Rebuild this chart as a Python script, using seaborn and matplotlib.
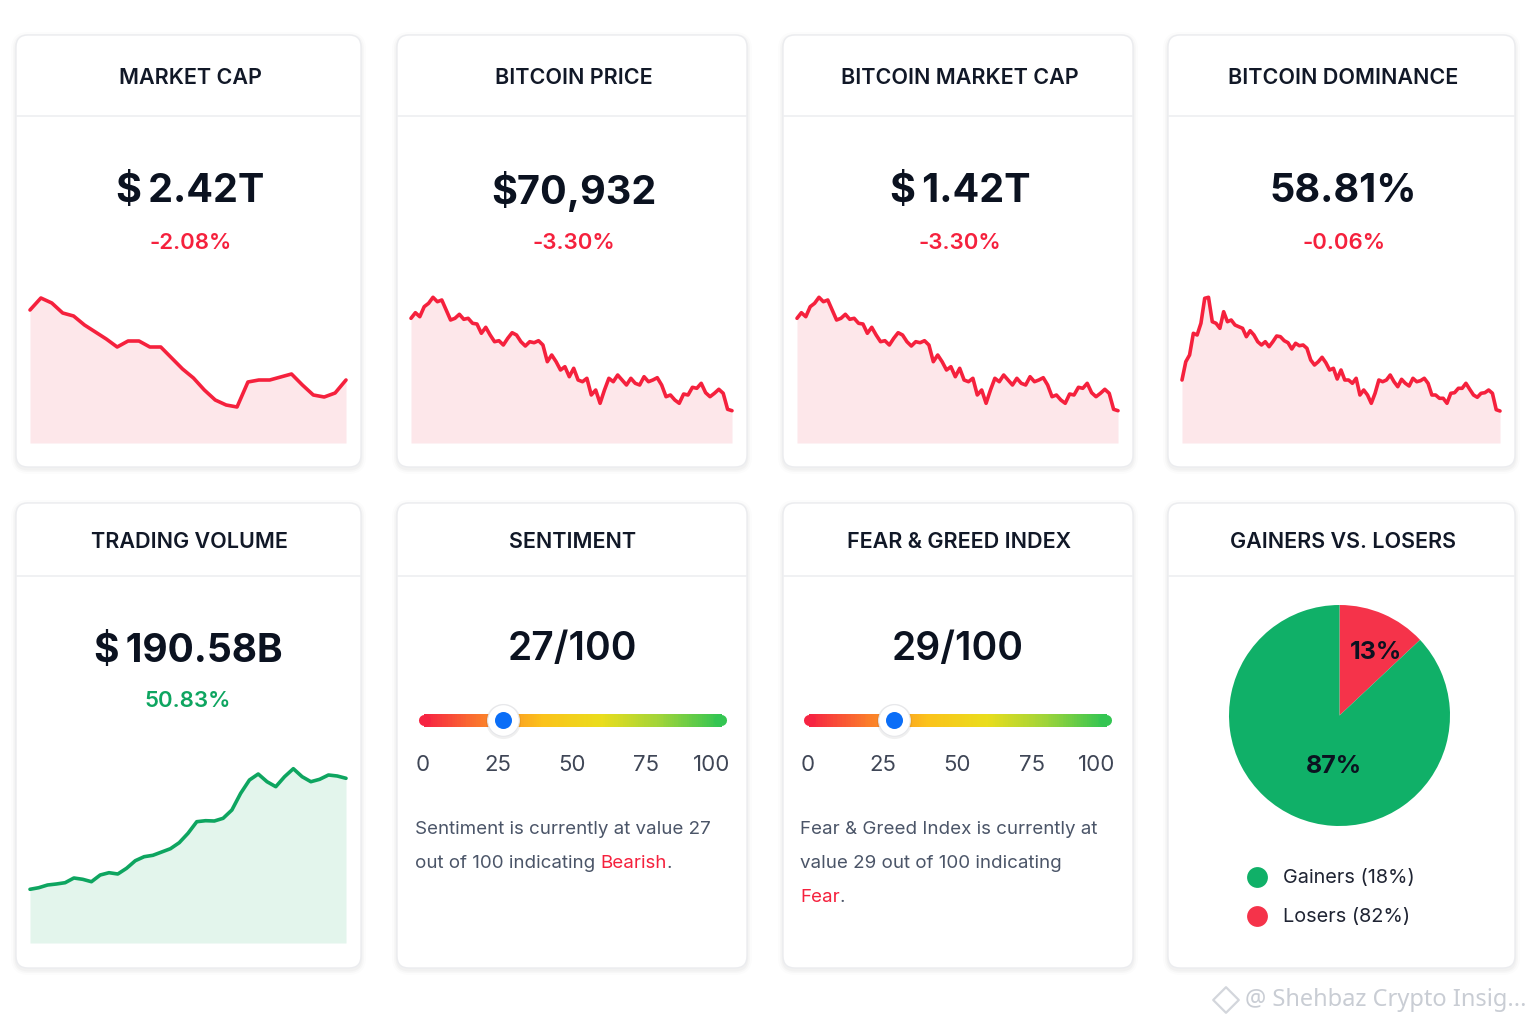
import numpy as np
import matplotlib
matplotlib.use("Agg")
import matplotlib.pyplot as plt
import seaborn as sns
from matplotlib.patches import FancyBboxPatch
from matplotlib.collections import LineCollection
from matplotlib.colors import LinearSegmentedColormap

sns.set_theme(style="white")
plt.rcParams['font.family'] = ['Inter', 'DejaVu Sans']

# ---- data ----
top_titles = ["MARKET CAP", "BITCOIN PRICE", "BITCOIN MARKET CAP", "BITCOIN DOMINANCE"]
top_values = ["$\u20092.42T", "$70,932", "$\u20091.42T", "58.81%"]
top_changes = ["-2.08%", "-3.30%", "-3.30%", "-0.06%"]

bottom_titles = ["TRADING VOLUME", "SENTIMENT", "FEAR & GREED INDEX", "GAINERS VS. LOSERS"]
volume_value = "$\u2009190.58B"
volume_change = "50.83%"

# sparkline levels (relative units)
market_cap_trend = [133, 145, 140, 130, 127, 118, 111, 104, 96, 102, 102, 96, 96, 85, 74,
                    65, 53, 43, 38, 36, 61, 63, 63, 66, 69, 58, 48, 46, 50, 63]
btc_price_trend = [124.7, 130.3, 126.3, 136.3, 139.7, 145.7, 141.3, 143.0, 133.0, 123.0,
                   124.7, 128.7, 123.7, 124.7, 119.7, 119.0, 109.7, 115.7, 108.0, 101.3,
                   102.3, 98.0, 104.7, 110.3, 108.0, 101.3, 97.0, 101.3, 100.3, 102.3,
                   98.0, 81.3, 88.0, 81.3, 73.0, 76.3, 66.3, 74.7, 63.0, 61.3,
                   64.7, 48.0, 53.0, 39.7, 53.0, 64.7, 61.3, 68.0, 63.0, 58.0,
                   64.7, 59.7, 58.0, 66.3, 61.3, 63.0, 65.3, 58.0, 46.3, 48.0,
                   43.0, 39.7, 49.0, 48.0, 55.7, 54.7, 59.7, 50.3, 46.3, 49.7,
                   53.7, 49.7, 33.7, 32.3]
btc_mcap_trend = btc_price_trend  # same shape as price
btc_dominance_trend = [63.0, 81.3, 88.0, 109.7, 108.0, 119.7, 144.7, 145.7, 121.3, 119.7,
                       114.7, 131.3, 121.3, 123.0, 118.0, 116.3, 114.7, 106.3, 112.3, 108.0,
                       101.3, 98.0, 101.3, 96.3, 101.3, 107.0, 106.3, 102.3, 100.3, 94.0,
                       99.7, 97.3, 98.0, 94.7, 83.0, 78.0, 81.3, 85.7, 80.3, 73.0,
                       74.7, 64.0, 73.0, 63.0, 63.0, 59.7, 64.7, 48.0, 53.0, 48.0,
                       39.7, 49.7, 63.0, 61.3, 63.0, 68.0, 61.3, 56.3, 63.7, 59.7,
                       57.0, 64.7, 61.3, 62.3, 64.7, 59.7, 48.0, 48.0, 44.7, 44.7,
                       39.7, 49.7, 50.3, 54.7, 54.7, 59.7, 53.7, 48.0, 45.7, 49.7,
                       50.3, 53.0, 49.7, 33.3, 32.0]
volume_trend = [53.7, 55.3, 58.0, 59.0, 60.3, 65.0, 63.7, 61.3, 68.0, 70.3, 69.0, 74.7,
                82.3, 86.3, 87.7, 91.0, 94.3, 100.3, 109.7, 121.3, 122.3, 122.0, 124.7,
                133.0, 149.7, 163.0, 169.0, 161.3, 156.3, 166.3, 174.3, 166.3, 161.3,
                163.7, 168.0, 167.0, 164.7]

sentiment_value = 27
fear_greed_value = 29
slider_ticks = [0, 25, 50, 75, 100]

pie_names = ["Losers", "Gainers"]
pie_shares = [13, 87]
legend_labels = ["Gainers (18%)", "Losers (82%)"]

# ---- colours ----
RED = "#f5213d"
RED_FILL = "#fde7ea"
GREEN = "#0ea560"
GREEN_FILL = "#e3f5ec"
PIE_GREEN = "#10b068"
PIE_RED = "#f5334a"
DARK = "#111827"
TEXT = "#4b5568"

W, H = 1536, 1024
fig = plt.figure(figsize=(W / 100, H / 100), dpi=100)
fig.patch.set_facecolor("white")
bg = fig.add_axes([0, 0, 1, 1])
bg.set_xlim(0, W)
bg.set_ylim(H, 0)
bg.axis("off")


def px_axes(x0, y0, x1, y1):
    ax = fig.add_axes([x0 / W, 1 - y1 / H, (x1 - x0) / W, (y1 - y0) / H])
    ax.patch.set_alpha(0)
    return ax


def card(x0, y0, x1, y1, head_y):
    for k, a in [(5, 0.012), (3, 0.018), (1.5, 0.025)]:
        bg.add_patch(FancyBboxPatch((x0 - k, y0 - k + 2), x1 - x0 + 2 * k, y1 - y0 + 2 * k,
                                    boxstyle=f"round,pad=0,rounding_size={12 + k}",
                                    fc="black", ec="none", alpha=a, zorder=1))
    bg.add_patch(FancyBboxPatch((x0, y0), x1 - x0, y1 - y0,
                                boxstyle="round,pad=0,rounding_size=12",
                                fc="white", ec="#ebecef", lw=1, zorder=2))
    bg.plot([x0, x1], [head_y, head_y], color="#eeeff1", lw=1.2, zorder=3)


def spark(x0, x1, top, base, data, line_c, fill_c):
    ax = px_axes(x0, top, x1, base)
    t = np.arange(len(data))
    ax.fill_between(t, data, color=fill_c, lw=0)
    sns.lineplot(x=t, y=data, ax=ax, color=line_c, lw=2.6)
    ax.lines[0].set_clip_on(False)
    ax.set_xlim(0, len(data) - 1)
    ax.set_ylim(0, base - top)
    ax.axis("off")


top_x = [(16, 361), (397, 747), (783, 1133), (1168, 1515)]

# row 1
top_trends = [market_cap_trend, btc_price_trend, btc_mcap_trend, btc_dominance_trend]
for i, (x0, x1) in enumerate(top_x):
    card(x0, 35, x1, 467, 116)
    cx = (x0 + x1) / 2 + 2
    bg.text(cx, 78, top_titles[i], ha="center", va="center", fontsize=15.5,
            fontweight="semibold", color=DARK, zorder=5)
    bg.text(cx, 192, top_values[i], ha="center", va="center", fontsize=28.5,
            fontweight="bold", color="#0b1220", zorder=5)
    bg.text(cx, 243, top_changes[i], ha="center", va="center", fontsize=16,
            fontweight="semibold", color=RED, zorder=5)
    spark(x0 + 14, x1 - 15, 293, 443, top_trends[i], RED, RED_FILL)

# row 2 cards
for i, (x0, x1) in enumerate(top_x):
    card(x0, 503, x1, 968, 576)
    cx = (x0 + x1) / 2 + 1
    bg.text(cx, 542, bottom_titles[i], ha="center", va="center", fontsize=15.5,
            fontweight="semibold", color=DARK, zorder=5)

# trading volume
bg.text(188, 651, volume_value, ha="center", va="center", fontsize=28,
        fontweight="bold", color="#0b1220", zorder=5)
bg.text(188, 701, volume_change, ha="center", va="center", fontsize=16,
        fontweight="semibold", color=GREEN, zorder=5)
spark(30, 346, 763, 943, volume_trend, GREEN, GREEN_FILL)

# sliders
grad = LinearSegmentedColormap.from_list(
    "sent", ["#f62442", "#fb7d2b", "#fbc21b", "#eadd1c", "#9fd43a", "#34c552"])


def slider(xl, value, title_x):
    bg.text(title_x, 649, f"{value}/100", ha="center", va="center", fontsize=28,
            fontweight="semibold", color="#0b1220", zorder=5)
    ax = px_axes(xl - 12, 695, xl + 312, 780)
    scale = 298 / 100
    ax.set_xlim(-12 / scale, 100 + 14 / scale)
    ax.set_ylim(780, 695)
    ax.axis("off")
    left, right = (418 - 423 + 5.5) / scale, (726 - 423 - 5.5) / scale
    xs = np.linspace(left, right, 160)
    segs = [[(xs[j], 720), (xs[j + 1], 720)] for j in range(len(xs) - 1)]
    cols = grad(np.linspace(0, 1, len(segs)))
    ax.add_collection(LineCollection(segs, colors=cols, linewidths=8, capstyle="butt",
                                     antialiaseds=False, zorder=2))
    ax.plot([xs[0], xs[1]], [720, 720], color=cols[0], lw=8, solid_capstyle="round", zorder=2)
    ax.plot([xs[-2], xs[-1]], [720, 720], color=cols[-1], lw=8, solid_capstyle="round", zorder=2)
    ax.scatter([value], [721], s=640, color="#000000", alpha=0.06, lw=0, zorder=3)
    ax.scatter([value], [720], s=520, color="white", edgecolor="#e6e7ea", lw=0.8, zorder=4)
    ax.scatter([value], [720], s=150, color="#0b6ef7", lw=0, zorder=5)
    for v in slider_ticks:
        if v == slider_ticks[-1]:
            ax.text(right + 10 / scale, 765, str(v), ha="right", va="center", fontsize=16,
                    color="#3f4656")
        else:
            ax.text(v, 765, str(v), ha="center", va="center", fontsize=16, color="#3f4656")


slider(423, sentiment_value, 572)
slider(808, fear_greed_value, 958)

desc_kw = dict(fontsize=13.5, color=TEXT, va="center", ha="left", zorder=5)
bg.text(415, 830, f"Sentiment is currently at value {sentiment_value}", **desc_kw)
t1 = bg.text(415, 864, "out of 100 indicating ", **desc_kw)
t2 = bg.annotate("Bearish", xy=(1, 0), xycoords=t1, va="bottom", ha="left",
                 fontsize=13.5, color=RED, zorder=5)
bg.annotate(".", xy=(1, 0), xycoords=t2, va="bottom", ha="left", fontsize=13.5, color=TEXT)

bg.text(800, 829, "Fear & Greed Index is currently at", **desc_kw)
bg.text(800, 863, f"value {fear_greed_value} out of 100 indicating", **desc_kw)
t3 = bg.text(800, 897, "Fear", **{**desc_kw, "color": RED})
bg.annotate(".", xy=(1, 0), xycoords=t3, va="bottom", ha="left", fontsize=13.5, color=TEXT)

# pie
pax = px_axes(1229, 605, 1450, 826)
wedges, texts, autotexts = pax.pie(pie_shares, colors=[PIE_RED, PIE_GREEN], startangle=90,
                                   counterclock=False, autopct="%d%%", pctdistance=0.67,
                                   wedgeprops=dict(linewidth=0),
                                   textprops=dict(fontsize=18, fontweight="bold", color="#0b1220"))
autotexts[0].set_position((0.33, 0.57))
autotexts[1].set_position((-0.05, -0.46))
pax.set_xlim(-1, 1)
pax.set_ylim(-1, 1)
pax.set_aspect("equal")

for j, (lab, c) in enumerate(zip(legend_labels, [PIE_GREEN, PIE_RED])):
    y = 878 + j * 39
    bg.scatter([1257], [y - 1], s=225, color=c, lw=0, zorder=5)
    bg.text(1283, y, lab, ha="left", va="center", fontsize=14.3, color="#1f2433", zorder=5)

# watermark
bg.scatter([1226], [1000], marker="D", s=170, facecolor="none", edgecolor="#d3d6dc", lw=1.6, zorder=5)
bg.text(1245, 1000, "@ Shehbaz Crypto Insig...", ha="left", va="center", fontsize=17,
        color="#c9cdd4", family=["Noto Sans", "DejaVu Sans"], zorder=5)

fig.savefig("out.png", dpi=100, facecolor="white")
